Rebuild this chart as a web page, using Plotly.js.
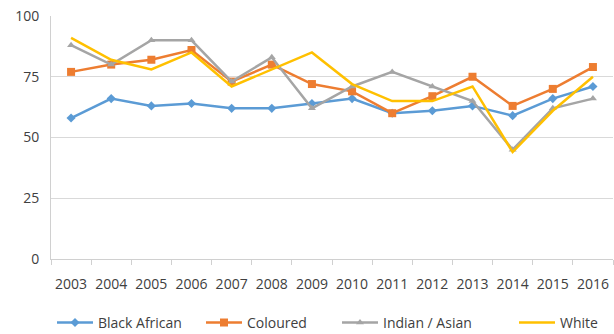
<!DOCTYPE html>
<html><head><meta charset="utf-8">
<script src="https://cdn.plot.ly/plotly-3.0.1.min.js"></script>
<style>html,body{margin:0;padding:0;background:#fff}#c{width:614px;height:334px}</style>
</head><body><div id="c"></div>
<script>
const years = ['2003','2004','2005','2006','2007','2008','2009','2010','2011','2012','2013','2014','2015','2016'];
const blackAfrican = [58,66,63,64,62,62,64,66,60,61,63,59,66,71];
const coloured     = [77,80,82,86,73,80,72,69,60,67,75,63,70,79];
const indianAsian  = [88,80,90,90,73,83,62,71,77,71,65,45,62,66];
const white        = [91,82,78,85,71,78,85,72,65,65,71,44,61,75];
const yTicks = [0,25,50,75,100];

const font = {family:'"Open Sans", "Liberation Sans", sans-serif', size:14, color:'#404040'};
function tr(name, y, color, sym, size, lg){
  return {x:years, y:y, name:name, type:'scatter', mode: sym ? 'lines+markers':'lines', legend:lg,
    line:{color:color, width:2.5}, marker:{symbol:sym||'circle', size:size||7, color:color}};
}
const data = [
  tr('Black African', blackAfrican, '#5B9BD5', 'diamond', 7, 'legend'),
  tr('Coloured', coloured, '#ED7D31', 'square', 8, 'legend2'),
  tr('Indian / Asian', indianAsian, '#A5A5A5', 'triangle-up', 7, 'legend3'),
  tr('White', white, '#FFC000', null, 7, 'legend4')
];
const plotL = 51, plotW = 562;
function lg(px){
  return {orientation:'h', x:(px-plotL)/plotW, xanchor:'left', y:-0.263, yanchor:'middle', font:font,
    itemwidth:36, bgcolor:'rgba(0,0,0,0)'};
}
const layout = {
  width:614, height:334, margin:{l:plotL, r:1, t:16, b:75, autoexpand:false},
  paper_bgcolor:'#fff', plot_bgcolor:'#fff', font:font, showlegend:true,
  xaxis:{type:'category', range:[-0.5,13.5], showgrid:false, showline:true, linecolor:'#d0d0d0', linewidth:1,
    ticks:'outside', tickson:'boundaries', ticklen:5, tickcolor:'#d0d0d0', tickfont:font, tickangle:0,
    ticklabelstandoff:12, automargin:false, fixedrange:true},
  yaxis:{range:[0,100], tickvals:yTicks, showgrid:true, gridcolor:'#d9d9d9', gridwidth:1, showline:true,
    linecolor:'#d0d0d0', zeroline:false, ticks:'', ticklabelstandoff:8, tickfont:font, automargin:false, fixedrange:true},
  legend: lg(52), legend2: lg(201), legend3: lg(337), legend4: lg(514)
};
Plotly.newPlot('c', data, layout, {displayModeBar:false, staticPlot:true});
</script></body></html>
